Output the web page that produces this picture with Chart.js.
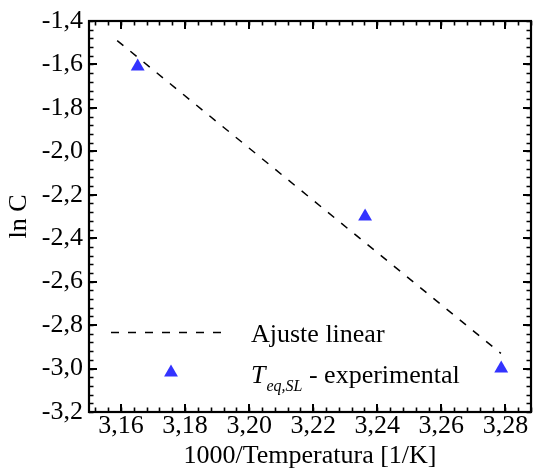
<!DOCTYPE html>
<html>
<head>
<meta charset="utf-8">
<script src="https://cdn.jsdelivr.net/npm/chart.js@4/dist/chart.umd.min.js"></script>
<style>
  html, body { margin: 0; padding: 0; background: #fff; }
  #wrap { width: 533px; height: 468px; }
</style>
</head>
<body>
<div id="wrap"><canvas id="c" width="533" height="468"></canvas></div>
<script>
// Experimental points: 1000/T [1/K] vs ln C
const invTemp = [3.1652, 3.2362, 3.2787];
const lnC = [-1.61, -2.30, -3.00];

// Linear fit, drawn between its two end points
const fitX = [3.1588, 3.2786];
const fitY = [-1.49, -2.93];

// Axis tick values
const xTicks = [3.16, 3.18, 3.20, 3.22, 3.24, 3.26, 3.28];
const yTicks = [-1.4, -1.6, -1.8, -2.0, -2.2, -2.4, -2.6, -2.8, -3.0, -3.2];

const seriesLabels = ['Ajuste linear', 'experimental'];

const SERIF = '"Liberation Serif", "Times New Roman", serif';
const BLUE = 'rgb(51,51,255)';

const toPoints = (xs, ys) => xs.map((x, i) => ({ x: x, y: ys[i] }));
const comma = (v, d) => Number(v).toFixed(d).replace('.', ',');

// Closed frame with inward major/minor tick marks on all four sides
const framePlugin = {
  id: 'frame',
  afterDatasetsDraw(chart) {
    const { ctx, chartArea: a, scales: { x, y } } = chart;
    ctx.save();
    ctx.strokeStyle = '#000';
    ctx.lineWidth = 1.6;
    const majLen = 8, minLen = 4.5;
    // minor ticks
    const xi0 = Math.ceil(x.min / 0.004 - 1e-6), xi1 = Math.floor(x.max / 0.004 + 1e-6);
    ctx.beginPath();
    for (let i = xi0; i <= xi1; i++) {
      const px = Math.round(x.getPixelForValue(i * 0.004)) + 0.5;
      ctx.moveTo(px, a.bottom); ctx.lineTo(px, a.bottom - minLen);
      ctx.moveTo(px, a.top); ctx.lineTo(px, a.top + minLen);
    }
    const yi0 = Math.ceil(y.min / 0.04 - 1e-6), yi1 = Math.floor(y.max / 0.04 + 1e-6);
    for (let i = yi0; i <= yi1; i++) {
      const py = Math.round(y.getPixelForValue(i * 0.04)) + 0.5;
      ctx.moveTo(a.left, py); ctx.lineTo(a.left + minLen, py);
      ctx.moveTo(a.right, py); ctx.lineTo(a.right - minLen, py);
    }
    ctx.stroke();
    // major ticks
    ctx.lineWidth = 2;
    ctx.beginPath();
    xTicks.forEach(v => {
      const px = Math.round(x.getPixelForValue(v));
      ctx.moveTo(px, a.bottom); ctx.lineTo(px, a.bottom - majLen);
      ctx.moveTo(px, a.top); ctx.lineTo(px, a.top + majLen);
    });
    yTicks.forEach(v => {
      const py = Math.round(y.getPixelForValue(v));
      ctx.moveTo(a.left, py); ctx.lineTo(a.left + majLen, py);
      ctx.moveTo(a.right, py); ctx.lineTo(a.right - majLen, py);
    });
    ctx.stroke();
    // frame
    ctx.lineWidth = 2.2;
    ctx.strokeRect(a.left, a.top, a.right - a.left, a.bottom - a.top);
    ctx.restore();
  }
};

// Legend inside the plot, lower left
const legendPlugin = {
  id: 'innerLegend',
  afterDraw(chart) {
    const { ctx, chartArea: a } = chart;
    ctx.save();
    const textX = a.left + 162;
    const row1 = a.bottom - 70;   // baseline of first row
    const row2 = a.bottom - 29;   // baseline of second row

    // dashed sample line
    ctx.strokeStyle = '#000';
    ctx.lineWidth = 1.5;
    ctx.setLineDash([8, 9]);
    ctx.beginPath();
    ctx.moveTo(a.left + 22, row1 - 9.5);
    ctx.lineTo(a.left + 140, row1 - 9.5);
    ctx.stroke();
    ctx.setLineDash([]);

    ctx.fillStyle = '#000';
    ctx.textBaseline = 'alphabetic';
    ctx.textAlign = 'left';
    ctx.font = '26px ' + SERIF;
    ctx.fillText(seriesLabels[0], textX, row1);

    // triangle marker
    ctx.fillStyle = BLUE;
    Chart.helpers.drawPoint(ctx, { pointStyle: 'triangle', radius: 8, rotation: 0, borderWidth: 0 }, a.left + 82, row2 - 10.5);

    // T_{eq,SL} - experimental
    ctx.fillStyle = '#000';
    ctx.font = 'italic 26px ' + SERIF;
    ctx.fillText('T', textX, row2);
    let cx = textX + ctx.measureText('T').width + 1;
    ctx.font = 'italic 16px ' + SERIF;
    ctx.fillText('eq,SL', cx, row2 + 8);
    cx += ctx.measureText('eq,SL').width;
    ctx.font = '26px ' + SERIF;
    ctx.fillText(' - ' + seriesLabels[1], cx, row2);
    ctx.restore();
  }
};

new Chart(document.getElementById('c'), {
  type: 'scatter',
  data: {
    datasets: [
      {
        label: seriesLabels[0],
        data: toPoints(fitX, fitY),
        showLine: true,
        borderColor: '#000',
        borderWidth: 1.5,
        borderDash: [8, 9],
        pointRadius: 0,
        fill: false
      },
      {
        label: seriesLabels[1],
        data: toPoints(invTemp, lnC),
        pointStyle: 'triangle',
        pointRadius: 8,
        pointBackgroundColor: BLUE,
        pointBorderWidth: 0,
        pointBorderColor: BLUE
      }
    ]
  },
  options: {
    responsive: false,
    animation: false,
    devicePixelRatio: 1,
    layout: { autoPadding: false, padding: { top: 21, right: 2, left: 0, bottom: 0 } },
    plugins: { legend: { display: false }, tooltip: { enabled: false } },
    scales: {
      x: {
        type: 'linear',
        min: 3.15,
        max: 3.288,
        afterBuildTicks: s => { s.ticks = xTicks.map(v => ({ value: v })); },
        afterFit: s => { s.height = 56; s.paddingLeft = 0; s.paddingRight = 0; },
        grid: { display: false, drawTicks: false },
        border: { display: false },
        ticks: {
          color: '#000',
          padding: -1,
          maxRotation: 0,
          font: { family: SERIF, size: 26 },
          callback: v => comma(v, 2)
        },
        title: {
          display: true,
          text: '1000/Temperatura [1/K]',
          color: '#000',
          padding: { top: 0, bottom: -4 },
          font: { family: SERIF, size: 26 }
        }
      },
      y: {
        type: 'linear',
        min: -3.2,
        max: -1.4,
        afterBuildTicks: s => { s.ticks = yTicks.map(v => ({ value: v })); },
        afterFit: s => { s.width = 89; s.paddingTop = 0; s.paddingBottom = 0; },
        grid: { display: false, drawTicks: false },
        border: { display: false },
        ticks: {
          color: '#000',
          padding: 6,
          font: { family: SERIF, size: 26 },
          callback: v => comma(v, 1)
        },
        title: {
          display: true,
          text: 'ln C',
          color: '#000',
          padding: { top: 4, bottom: 0 },
          font: { family: SERIF, size: 26 }
        }
      }
    }
  },
  plugins: [framePlugin, legendPlugin]
});
</script>
</body>
</html>
